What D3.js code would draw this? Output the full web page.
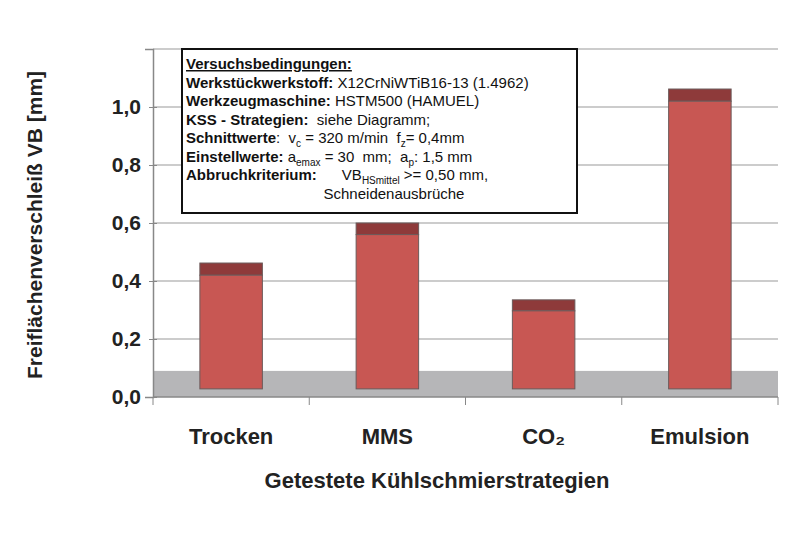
<!DOCTYPE html>
<html><head><meta charset="utf-8">
<script src="https://cdn.jsdelivr.net/npm/d3@7"></script>
<style>body{margin:0;background:#fff}text{font-family:"Liberation Sans",Arial,sans-serif}</style>
</head><body><svg id="svg" width="800" height="533"></svg>
<script>
'use strict'
const categories = ['Trocken', 'MMS', 'CO₂', 'Emulsion']
const baseVals = [0.028, 0.028, 0.028, 0.028]
const meanVals = [0.42, 0.56, 0.297, 1.02]
const maxVals = [0.462, 0.60, 0.335, 1.062]
const yTicks = [0, 0.2, 0.4, 0.6, 0.8, 1.0]
const gridVals = [0.2, 0.4, 0.6, 0.8, 1.0, 1.2]
const bandTop = 0.09
const legendLines = [
  [['Versuchsbedingungen:', 'bu']],
  [['Werkstückwerkstoff: ', 'b'], ['X12CrNiWTiB16-13 (1.4962)', '']],
  [['Werkzeugmaschine: ', 'b'], ['HSTM500 (HAMUEL)', '']],
  [['KSS - Strategien: ', 'b'], [' siehe Diagramm;', '']],
  [['Schnittwerte', 'b'], [':  v', ''], ['c', 'sub'], [' = 320 m/min  f', ''], ['z', 'sub'], ['= 0,4mm', '']],
  [['Einstellwerte: ', 'b'], ['a', ''], ['emax', 'sub'], [' = 30  mm;  a', ''], ['p', 'sub'], [': 1,5 mm', '']],
  [['Abbruchkriterium:', 'b'], ['      VB', ''], ['HSmittel', 'sub'], [' >= 0,50 mm,', '']],
  [['                                 Schneidenausbrüche', '']]
]

const svg = d3.select('#svg')
const x = d3.scaleBand().domain(categories).range([153, 778]).paddingInner(0.6).paddingOuter(0.3)
const y = d3.scaleLinear().domain([0, 1.2]).range([397, 49])

svg.append('rect').attr('x', 153).attr('y', y(bandTop)).attr('width', 625).attr('height', y(0) - y(bandTop)).attr('fill', '#b6b6b8')
svg.selectAll('line.grid').data(gridVals).join('line').attr('class', 'grid')
  .attr('x1', 153).attr('x2', 778).attr('y1', d => y(d)).attr('y2', d => y(d))
  .attr('stroke', '#999').attr('stroke-width', 1.2)

const g = svg.selectAll('g.bar').data(categories).join('g')
g.append('rect').attr('x', d => x(d)).attr('width', x.bandwidth())
  .attr('y', (d, i) => y(maxVals[i])).attr('height', (d, i) => y(meanVals[i]) - y(maxVals[i]))
  .attr('fill', '#8e3a3a').attr('stroke', '#6b5a5a')
g.append('rect').attr('x', d => x(d)).attr('width', x.bandwidth())
  .attr('y', (d, i) => y(meanVals[i])).attr('height', (d, i) => y(baseVals[i]) - y(meanVals[i]))
  .attr('fill', '#c85753').attr('stroke', '#6b5a5a')

const ya = svg.append('g').attr('transform', 'translate(153,0)')
  .call(d3.axisLeft(y).tickValues(yTicks).tickSize(8).tickFormat(d => d3.format('.1f')(d).replace('.', ',')))
ya.select('.domain').attr('stroke', '#888').attr('stroke-width', 1.5)
ya.selectAll('.tick line').attr('stroke', '#888').attr('transform', 'translate(4,0)')
ya.selectAll('text').attr('font-size', 21).attr('font-weight', 'bold').attr('fill', '#222').attr('x', -12)
svg.append('line').attr('x1', 153).attr('x2', 778).attr('y1', y(0)).attr('y2', y(0)).attr('stroke', '#888').attr('stroke-width', 1.5)
const xa = svg.append('g').attr('transform', `translate(0,${y(0)})`)
xa.selectAll('line').data(d3.range(5)).join('line')
  .attr('x1', i => 153 + i * 625 / 4).attr('x2', i => 153 + i * 625 / 4).attr('y1', 0).attr('y2', 8).attr('stroke', '#888')
xa.selectAll('text').data(categories).join('text')
  .attr('x', d => x(d) + x.bandwidth() / 2).attr('y', 47).attr('text-anchor', 'middle')
  .attr('font-size', 22).attr('font-weight', 'bold').attr('fill', '#222').text(d => d)

svg.append('text').attr('x', 437).attr('y', 488).attr('text-anchor', 'middle')
  .attr('font-size', 22).attr('font-weight', 'bold').attr('fill', '#222').text('Getestete Kühlschmierstrategien')
svg.append('text').attr('transform', 'translate(42,225) rotate(-90)').attr('text-anchor', 'middle')
  .attr('font-size', 21).attr('font-weight', 'bold').attr('fill', '#222').text('Freiflächenverschleiß VB [mm]')

const lg = svg.append('g')
lg.append('rect').attr('x', 182).attr('y', 49).attr('width', 395).attr('height', 164).attr('fill', '#fff').attr('stroke', '#111').attr('stroke-width', 2)
legendLines.forEach((line, i) => {
  const t = lg.append('text').attr('x', 186).attr('y', 69 + i * 18.5).attr('font-size', 15).attr('fill', '#111').attr('xml:space', 'preserve')
  line.forEach(([s, st], j) => {
    const ts = t.append('tspan').text(s)
    if (st === 'sub') {
      ts.attr('font-size', 10).attr('dy', 4)
    } else {
      if (st.includes('b')) ts.attr('font-weight', 'bold')
      if (st.includes('u')) ts.attr('text-decoration', 'underline')
      if (j > 0 && line[j - 1][1] === 'sub') ts.attr('dy', -4)
    }
  })
})
</script></body></html>
